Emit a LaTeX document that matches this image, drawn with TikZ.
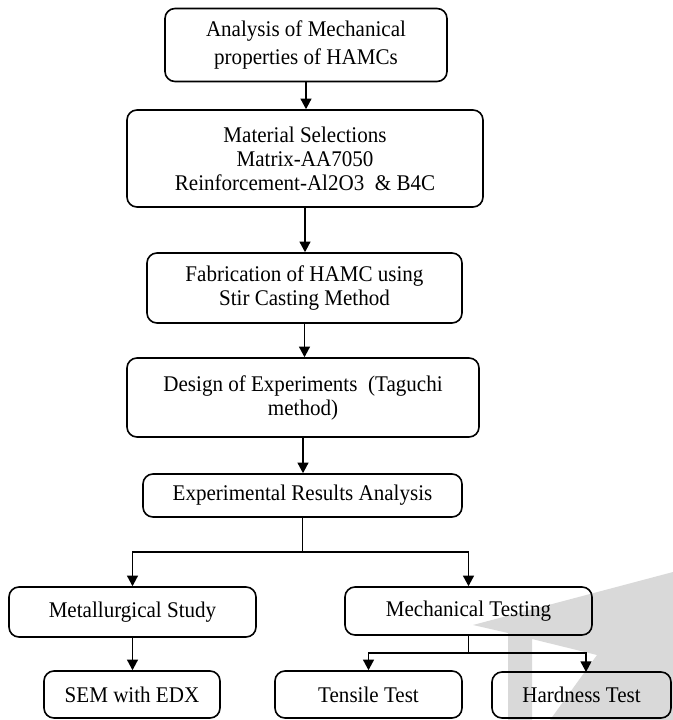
\documentclass[tikz,border=0pt]{standalone}
\usepackage{fontspec}
\setmainfont[FakeStretch=0.94]{Liberation Serif}
\usetikzlibrary{arrows.meta}
\begin{document}
\begin{tikzpicture}[x=0.75pt,y=-0.75pt,
  box/.style={draw, rounded corners=7.5pt, line width=1.2pt, align=center,
    inner sep=0pt, font=\fontsize{16.8}{18}\selectfont},
  arr/.style={line width=1.1pt, -{Triangle[width=8.25pt,length=8pt]}},
  ln/.style={line width=1.1pt}]
\useasboundingbox (0,0) rectangle (673,720);
% watermark shape
\fill[gray!30] (473,625) -- (673,572) -- (673,720) -- (550,720) -- (597,655)
  -- (532,639) -- (532,720) -- (508,720) -- (508,633) -- cycle;
% boxes
\node[box, minimum width=211.5pt, minimum height=54.75pt,
  font=\fontsize{16.8}{21}\selectfont] (b1) at (306,45)
  {Analysis of Mechanical\\properties of HAMCs};
\node[box, minimum width=267pt, minimum height=72.75pt] (b2) at (305,158.5)
  {Material Selections\\Matrix-AA7050\\Reinforcement-Al2O3\ \ \& B4C};
\node[box, minimum width=236.25pt, minimum height=52.5pt] (b3) at (304.5,288)
  {Fabrication of HAMC using\\Stir Casting Method};
\node[box, minimum width=264pt, minimum height=59.25pt] (b4) at (303,397.5)
  {Design of Experiments\ \ (Taguchi\\method)};
\node[box, minimum width=239.25pt, minimum height=32.25pt] (b5) at (302.5,495.5)
  {Experimental Results Analysis};
\node[box, minimum width=185.25pt, minimum height=37.5pt] (met) at (132.5,612)
  {Metallurgical Study};
\node[box, minimum width=185.25pt, minimum height=36pt] (mech) at (468.5,611)
  {Mechanical Testing};
\node[box, minimum width=132pt, minimum height=35.25pt] (sem) at (132,694.5)
  {SEM with EDX};
\node[box, minimum width=140.25pt, minimum height=35.25pt] (ten) at (368.5,694.5)
  {Tensile Test};
\node[box, minimum width=134.25pt, minimum height=34.5pt] (hard) at (581.5,695)
  {Hardness Test};
% connectors
\draw[arr] (b1.south) -- (b1.south |- b2.north);
\draw[arr] (b2.south) -- (b2.south |- b3.north);
\draw[arr] (b3.south) -- (b3.south |- b4.north);
\draw[arr] (b4.south) -- (b4.south |- b5.north);
\coordinate (j1) at (302.5,552);
\draw[ln] (b5.south) -- (j1);
\draw[arr] (j1) -| (met.north);
\draw[arr] (j1) -| (mech.north);
\draw[arr] (met.south) -- (met.south |- sem.north);
\coordinate (j2) at (468.5,653);
\coordinate (hd) at (586,672);
\draw[ln] (mech.south) -- (j2);
\draw[arr] (j2) -| (ten.north);
\draw[arr] (j2) -| (hd);
\end{tikzpicture}
\end{document}
